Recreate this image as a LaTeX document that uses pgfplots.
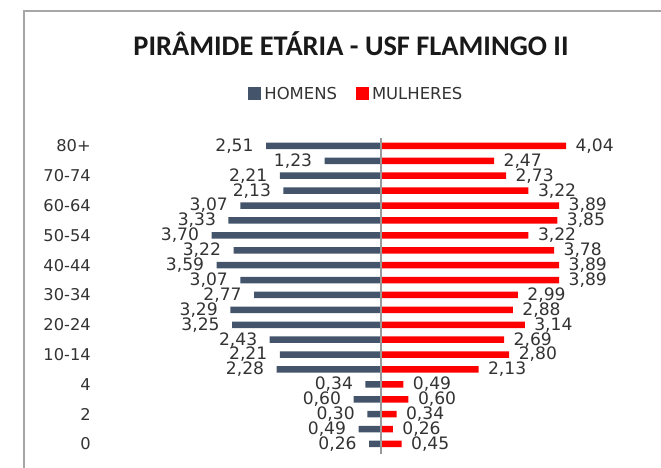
\documentclass[border=0pt]{standalone}
\usepackage{pgfplots}
\pgfplotsset{compat=1.18}
\usepackage{fontspec}
\setmainfont{DejaVu Sans}
\newfontfamily\titlefont{Carlito}
\definecolor{men}{HTML}{44546A}
\definecolor{women}{HTML}{FF0000}
\definecolor{txt}{HTML}{333333}
\definecolor{frame}{HTML}{A6A6A6}
\begin{document}
\begin{tikzpicture}
\path[use as bounding box] (0bp,0bp) rectangle (661bp,468bp);
\fill[frame] (23.25bp,0bp) rectangle (24.75bp,457.75bp);
\fill[frame] (23.25bp,456.25bp) rectangle (661bp,457.75bp);
\node[font=\titlefont\bfseries\fontsize{28.5}{32}\selectfont, text=black!90] at (351bp,424bp) {PIRÂMIDE ETÁRIA - USF FLAMINGO II};
\begin{axis}[
  at={(106.2bp,13.6bp)}, anchor=south west,
  scale only axis, width=526.7bp, height=315.9bp,
  xmin=-6, xmax=5.5, ymin=-0.7, ymax=20.5,
  hide x axis,
  axis y line*=left, y axis line style={draw=none},
  major tick length=0pt,
  ytick={0,2,...,20},
  yticklabels={0,2,4,10-14,20-24,30-34,40-44,50-54,60-64,70-74,80+},
  yticklabel style={font=\fontsize{16.3}{18}\selectfont, text=txt, xshift=-12bp},
  xbar, bar width=6.5bp, bar shift=0pt,
  point meta=explicit symbolic,
  nodes near coords,
  every node near coord/.append style={font=\fontsize{17.2}{19}\selectfont, text=txt},
  legend columns=2,
  legend style={at={(0.476,1.141)}, anchor=center, draw=none, fill=none, font=\fontsize{16.5}{18}\selectfont, text=txt,
    nodes={inner xsep=3bp},
    /tikz/every even column/.append style={column sep=16bp}},
  legend image code/.code={\fill[#1] (0bp,-6.5bp) rectangle (13bp,6.5bp);},
  clip=false,
]
\addplot[fill=men, draw=none, every node near coord/.append style={anchor=east, xshift=-9bp}] coordinates {
(-0.26,0) [0,26]
(-0.49,1) [0,49]
(-0.30,2) [0,30]
(-0.60,3) [0,60]
(-0.34,4) [0,34]
(-2.28,5) [2,28]
(-2.21,6) [2,21]
(-2.43,7) [2,43]
(-3.25,8) [3,25]
(-3.29,9) [3,29]
(-2.77,10) [2,77]
(-3.07,11) [3,07]
(-3.59,12) [3,59]
(-3.22,13) [3,22]
(-3.70,14) [3,70]
(-3.33,15) [3,33]
(-3.07,16) [3,07]
(-2.13,17) [2,13]
(-2.21,18) [2,21]
(-1.23,19) [1,23]
(-2.51,20) [2,51]
};
\addplot[fill=women, draw=none, every node near coord/.append style={anchor=west, xshift=6bp}] coordinates {
(0.45,0) [0,45]
(0.26,1) [0,26]
(0.34,2) [0,34]
(0.60,3) [0,60]
(0.49,4) [0,49]
(2.13,5) [2,13]
(2.80,6) [2,80]
(2.69,7) [2,69]
(3.14,8) [3,14]
(2.88,9) [2,88]
(2.99,10) [2,99]
(3.89,11) [3,89]
(3.89,12) [3,89]
(3.78,13) [3,78]
(3.22,14) [3,22]
(3.85,15) [3,85]
(3.89,16) [3,89]
(3.22,17) [3,22]
(2.73,18) [2,73]
(2.47,19) [2,47]
(4.04,20) [4,04]
};
\legend{HOMENS, MULHERES}
\draw[black!40, line width=1.2bp] (axis cs:0,-0.7) -- (axis cs:0,20.5);
\end{axis}
\end{tikzpicture}
\end{document}
